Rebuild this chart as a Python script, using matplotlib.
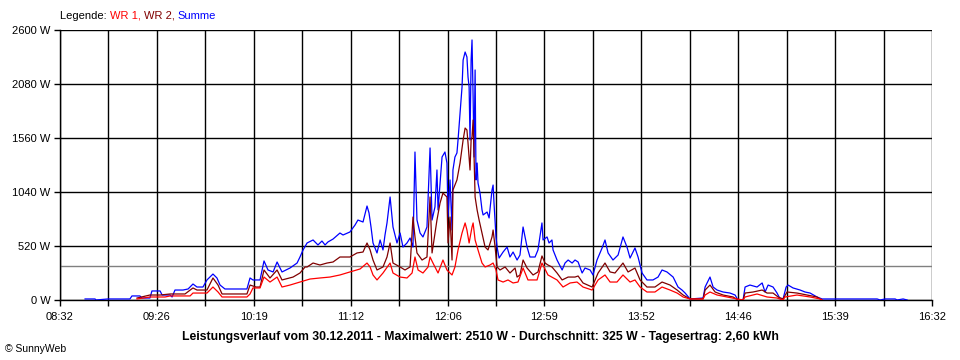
import numpy as np
import matplotlib
matplotlib.use('Agg')
import matplotlib.pyplot as plt

plt.rcParams['font.family'] = ['Liberation Sans', 'DejaVu Sans']

# minutes after 08:32, power in W
t_summe = [13.8, 17.6, 19.3, 19.8, 26.4, 38.5, 39.6, 44.0, 45.1, 49.5, 50.6, 55.1, 56.2, 60.6,
           61.7, 63.3, 67.7, 70.5, 73.2, 75.4, 78.7, 80.9, 84.2, 86.4, 88.1, 90.8, 99.1, 102.9,
           104.6, 106.2, 110.1, 112.3, 114.5, 117.3, 119.5, 122.2, 126.6, 130.5, 132.1, 133.8,
           136.0, 139.3, 142.0, 144.2, 145.9, 147.5, 150.3, 154.1, 155.8, 159.6, 162.4, 164.0,
           166.8, 169.0, 170.1, 171.2, 172.3, 174.5, 176.2, 177.8, 178.9, 180.0, 181.7, 183.3,
           185.5, 187.2, 188.8, 191.0, 192.7, 194.3, 195.4, 196.5, 198.2, 199.8, 202.0, 203.7,
           204.8, 206.4, 207.5, 208.1, 210.3, 211.9, 213.0, 213.6, 214.7, 215.8, 216.3, 217.4,
           218.5, 219.1, 220.2, 221.3, 221.9, 223.0, 224.0, 224.6, 225.2, 225.7, 226.3, 226.8,
           227.4, 227.9, 228.5, 229.0, 229.6, 230.1, 231.2, 232.3, 232.9, 235.1, 236.2, 237.8,
           238.4, 238.9, 240.0, 240.6, 241.7, 243.9, 246.1, 247.7, 249.4, 251.6, 253.2, 254.9,
           257.1, 258.7, 261.5, 263.1, 265.3, 265.9, 268.1, 269.2, 270.8, 271.4, 273.6, 276.4,
           278.0, 279.7, 281.9, 283.5, 285.2, 287.4, 289.0, 291.8, 293.4, 295.6, 298.4, 300.0,
           301.7, 304.4, 307.2, 309.9, 312.1, 313.8, 316.5, 318.2, 320.4, 323.1, 326.4, 329.2,
           331.4, 334.1, 337.5, 340.2, 342.4, 344.1, 346.8, 354.0, 355.1, 357.8, 359.5, 361.7,
           365.0, 368.8, 371.6, 373.2, 376.0, 377.1, 379.8, 383.7, 386.5, 388.1, 389.8, 392.5,
           394.7, 396.4, 398.0, 399.7, 400.8, 403.5, 407.4, 410.1, 412.9, 416.7, 419.5, 449.8,
           451.4, 454.2, 459.7, 460.8, 464.1, 466.3]
p_summe = [10, 10, 10, 0, 10, 10, 39, 39, 19, 19, 87, 87, 48, 48,
           29, 96, 96, 106, 154, 125, 125, 193, 250, 212, 144, 106, 106, 106,
           212, 193, 193, 376, 289, 270, 366, 270, 308, 356, 414, 482,
           549, 578, 530, 568, 530, 559, 587, 645, 626, 655, 722, 770,
           751, 905, 838, 703, 549, 453, 578, 482, 626, 742, 992, 703,
           549, 645, 510, 549, 597, 510, 1425, 770, 645, 607, 703, 1464,
           770, 896, 1252, 867, 1377, 1425, 1319, 799, 1156, 674, 1252, 1377,
           1416, 1541, 1801, 2051, 2311, 2388, 2340, 2147, 2051, 1541, 2311, 2504,
           1955, 1377, 2215, 1156, 1319, 1127, 1030, 867, 819, 847, 790, 1059,
           1107, 934, 607, 510, 404, 462, 510, 414, 462, 385, 433, 703,
           510, 414, 414, 482, 742, 578, 607, 549, 578, 482, 385, 289,
           356, 385, 356, 385, 366, 260, 308, 289, 241, 385, 501, 578,
           453, 385, 433, 607, 510, 404, 501, 414, 260, 193, 193, 221,
           289, 270, 221, 125, 96, 67, 10, 19, 125, 221, 125, 96,
           77, 67, 48, 0, 0, 125, 144, 125, 164, 77, 144, 125,
           67, 10, 10, 125, 144, 116, 96, 77, 67, 29, 10, 10,
           0, 10, 10, 0, 10, 0]

t_wr2 = [42.4, 49.5, 55.1, 60.6, 68.8, 73.2, 75.4, 80.9, 84.2, 87.0, 89.2, 99.1, 102.9, 104.6,
         107.9, 110.1, 112.3, 115.6, 119.5, 122.2, 128.3, 132.1, 134.9, 136.0, 139.3, 143.1,
         147.0, 150.3, 154.1, 159.6, 163.5, 166.8, 169.0, 170.7, 172.3, 174.5, 177.8, 180.0,
         181.7, 183.3, 187.2, 189.9, 192.7, 194.3, 195.4, 196.5, 199.3, 202.0, 203.7, 204.8,
         207.5, 209.2, 210.8, 213.0, 213.6, 214.7, 215.8, 216.3, 218.5, 220.2, 221.9, 223.0,
         224.0, 224.6, 225.7, 226.3, 226.8, 227.4, 227.9, 228.5, 229.6, 230.7, 232.3, 234.0,
         235.6, 237.8, 238.4, 239.5, 240.6, 242.2, 245.0, 247.7, 250.5, 251.6, 253.2, 254.9,
         257.1, 260.4, 263.1, 265.3, 267.0, 268.6, 270.8, 273.6, 276.4, 279.7, 283.5, 285.2,
         287.9, 292.9, 296.2, 300.0, 302.8, 305.5, 309.9, 312.7, 316.5, 319.3, 323.1, 327.5,
         331.4, 335.8, 339.7, 343.0, 346.8, 354.0, 355.1, 357.8, 360.6, 365.0, 370.5, 373.2,
         376.0, 377.1, 381.5, 386.5, 389.2, 392.5, 395.3, 398.0, 400.2, 405.7, 411.2, 416.7,
         418.4, 419.5]
p_wr2 = [19, 48, 48, 58, 58, 116, 96, 96, 212, 144, 58, 58, 58, 144,
         125, 125, 289, 212, 289, 193, 221, 260, 318, 318, 356, 337,
         356, 366, 414, 414, 453, 462, 549, 482, 385, 289, 318, 414,
         549, 356, 318, 289, 318, 799, 607, 453, 385, 414, 992, 453,
         770, 934, 1030, 992, 549, 799, 385, 1059, 1156, 1319, 1541, 1656,
         1637, 1512, 1252, 1541, 1570, 1733, 1377, 992, 867, 770, 645, 510,
         482, 607, 674, 510, 318, 289, 318, 260, 308, 221, 241, 385,
         308, 241, 270, 424, 356, 337, 318, 260, 193, 221, 221, 231,
         164, 125, 260, 356, 270, 260, 356, 270, 308, 193, 125, 125,
         173, 144, 96, 48, 10, 10, 96, 144, 77, 48, 29, 0,
         0, 67, 77, 96, 67, 67, 29, 10, 77, 67, 48, 29,
         10, 0]

t_wr1 = [42.4, 49.5, 57.8, 60.6, 71.6, 73.2, 80.9, 84.2, 87.0, 89.2, 102.9, 104.6, 106.2, 110.1,
         112.3, 115.6, 119.5, 122.2, 126.6, 132.1, 137.6, 143.1, 148.6, 154.1, 159.6, 165.2,
         169.0, 170.7, 172.3, 174.5, 177.8, 181.7, 183.3, 187.2, 191.0, 193.8, 195.4, 197.1,
         199.8, 202.6, 203.7, 205.3, 208.1, 210.8, 213.0, 215.8, 217.4, 219.1, 221.3, 223.0,
         224.0, 225.2, 226.8, 227.4, 228.5, 230.1, 232.3, 234.0, 236.7, 238.4, 240.0, 241.1,
         243.9, 246.6, 249.4, 252.1, 254.9, 257.6, 262.6, 265.3, 268.6, 273.6, 276.9, 280.8,
         284.6, 287.9, 292.9, 296.2, 300.0, 302.8, 306.6, 309.9, 313.8, 316.5, 319.3, 323.1,
         327.5, 331.4, 335.8, 339.7, 343.0, 346.8, 354.0, 355.1, 357.8, 361.7, 367.2, 372.7,
         376.0, 377.1, 383.7, 389.2, 394.7, 398.0, 399.1, 405.7, 412.9, 418.4, 419.5]
p_wr1 = [10, 29, 29, 39, 39, 67, 67, 125, 77, 29, 29, 58, 116, 116,
         221, 173, 221, 125, 144, 173, 202, 212, 221, 241, 270, 299,
         356, 318, 241, 193, 260, 356, 260, 221, 212, 260, 414, 289,
         260, 318, 414, 356, 260, 385, 289, 241, 318, 482, 645, 742,
         674, 549, 703, 742, 578, 482, 356, 318, 337, 356, 289, 193,
         173, 193, 164, 173, 308, 193, 193, 356, 241, 193, 125, 164,
         173, 125, 96, 193, 241, 173, 173, 241, 173, 193, 125, 77,
         77, 125, 96, 67, 29, 10, 10, 48, 77, 48, 29, 10,
         0, 29, 58, 29, 19, 0, 29, 48, 29, 10, 0]

avg_power = 325
y_ticks = [0, 520, 1040, 1560, 2080, 2600]
x_labels = ['08:32', '09:26', '10:19', '11:12', '12:06', '12:59', '13:52', '14:46', '15:39', '16:32']

fig = plt.figure(figsize=(9.6, 3.6), dpi=100)
ax = fig.add_axes([60 / 960, 60 / 360, 872 / 960, 270 / 360])

ax.set_xlim(0, 480)
ax.set_ylim(0, 2600)

# grid
grid_x = np.arange(0, 481, 480 / 18)
for x in grid_x:
    ax.axvline(x, color='black', lw=1.0, zorder=1)
for y in y_ticks:
    ax.axhline(y, color='black', lw=1.0, zorder=1)
ax.axhline(avg_power, color='#808080', lw=1.0, zorder=1)

ax.plot(t_summe, p_summe, color='#0000ff', lw=0.9, zorder=3)
ax.plot(t_wr2, p_wr2, color='#800000', lw=0.9, zorder=4)
ax.plot(t_wr1, p_wr1, color='#ff0000', lw=0.9, zorder=5)

for s in ['top', 'right']:
    ax.spines[s].set_visible(False)
ax.spines['left'].set_linewidth(1.0)
ax.spines['bottom'].set_linewidth(1.0)

ax.set_yticks(y_ticks)
ax.set_yticklabels([f'{v} W' for v in y_ticks])
ax.set_xticks(grid_x)
ax.set_xticklabels([x_labels[i // 2] if i % 2 == 0 else '' for i in range(len(grid_x))])
ax.tick_params(axis='both', direction='out', length=4, width=1.0, labelsize=8, colors='black')
ax.tick_params(axis='x', pad=5)
ax.tick_params(axis='y', pad=3)

fig.text(480 / 960, 1 - 337 / 360, 'Leistungsverlauf vom 30.12.2011 - Maximalwert: 2510 W - '
         'Durchschnitt: 325 W - Tagesertrag: 2,60 kWh', ha='center', va='center',
         fontsize=8.8, fontweight='bold')
fig.text(5 / 960, 1 - 349 / 360, '\u00a9 SunnyWeb', ha='left', va='center', fontsize=7.5)

# legend as coloured text pieces
fig.canvas.draw()
renderer = fig.canvas.get_renderer()
x0 = 60 / 960
for txt, col in [('Legende: ', 'black'), ('WR 1, ', '#ff0000'), ('WR 2, ', '#800000'), ('Summe', '#0000ff')]:
    t = fig.text(x0, 1 - 16 / 360, txt, color=col, fontsize=8, ha='left', va='center')
    bb = t.get_window_extent(renderer)
    x0 += bb.width / fig.bbox.width

fig.savefig('out.png', dpi=100)
